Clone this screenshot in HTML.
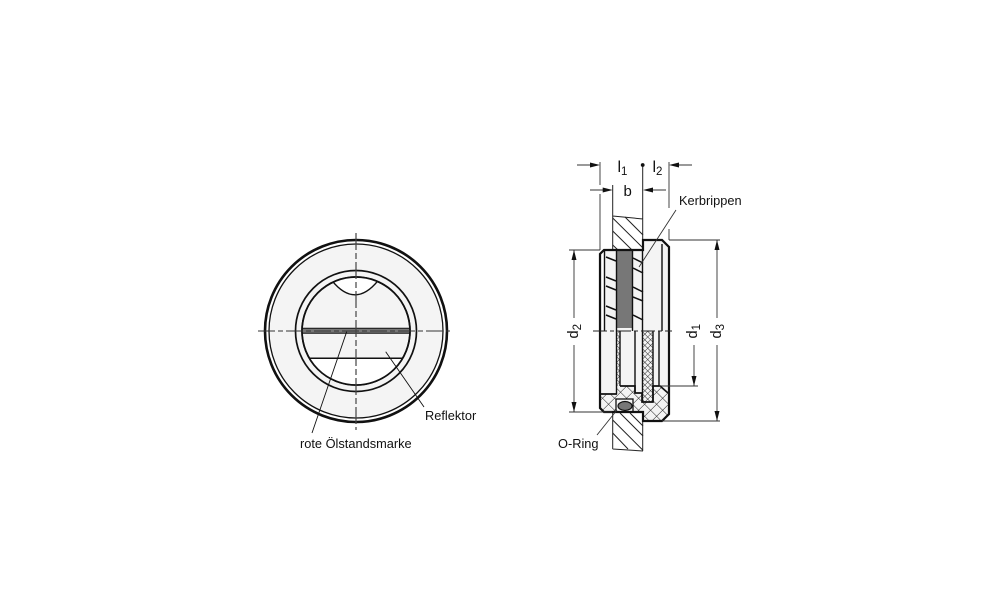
<!DOCTYPE html>
<html><head><meta charset="utf-8"><style>
html,body{margin:0;padding:0;background:#fff;width:1000px;height:611px;overflow:hidden}
svg{display:block}
text{font-family:"Liberation Sans",sans-serif;fill:#111}
</style></head><body>
<svg width="1000" height="611" viewBox="0 0 1000 611" xmlns="http://www.w3.org/2000/svg">
<defs>
<pattern id="x" width="8.5" height="8.5" patternUnits="userSpaceOnUse" patternTransform="rotate(45 640 400)">
<rect width="8.5" height="8.5" fill="#f4f4f4"/><path d="M0 0H8.5M0 0V8.5" stroke="#222" stroke-width="1"/>
</pattern>
<pattern id="xs" width="4" height="4" patternUnits="userSpaceOnUse" patternTransform="rotate(45)">
<rect width="4" height="4" fill="#f4f4f4"/><path d="M0 0H4M0 0V4" stroke="#222" stroke-width=".9"/>
</pattern>
<clipPath id="c"><circle cx="356" cy="331" r="54"/></clipPath>
</defs>

<!-- front view -->
<circle cx="356" cy="331" r="91" fill="#fff" stroke="#111" stroke-width="2.6"/>
<circle cx="356" cy="331" r="87" fill="#f4f4f4" stroke="#111" stroke-width="1.3"/>
<circle cx="356" cy="331" r="60.5" fill="#f4f4f4" stroke="#111" stroke-width="1.7"/>
<circle cx="356" cy="331" r="54" fill="#f4f4f4" stroke="#111" stroke-width="1.7"/>
<g clip-path="url(#c)">
<rect x="300" y="358" width="112" height="30" fill="#fff"/>
<path d="M332 280.7Q355 309 378 280.7V270H332Z" fill="#fff" stroke="#111" stroke-width="1.4"/>
<rect x="300" y="328.3" width="112" height="5" fill="#777"/>
<path d="M300 328.3H412M300 333.3H412" stroke="#111" stroke-width="1"/>
<path d="M300 358.3H412" stroke="#111" stroke-width="1.5"/>
</g>
<circle cx="356" cy="331" r="54" fill="none" stroke="#111" stroke-width="1.7"/>
<path d="M258 331H450" stroke="#333" stroke-width="1" stroke-dasharray="17 3 5 3" fill="none"/>
<path d="M356 233V430" stroke="#444" stroke-width="1.2" stroke-dasharray="17 3 6 3" fill="none"/>
<path d="M346.7 331.7L312 433M385.7 351.7L424 407" stroke="#111" stroke-width=".9" fill="none"/>
<text x="425" y="420" font-size="12.8">Reflektor</text>
<text x="300" y="448" font-size="12.8">rote Ölstandsmarke</text>

<!-- wall -->
<g stroke="#222" stroke-width="1" fill="none">
<path d="M625 217L643 235M612.7 218L643 248M612.7 231L632 250M612.7 245L618 250"/>
<path d="M612.7 420L642.7 450M612.7 433L628 449M620 413L643 436M630 413L643 426"/>
<path d="M612.7 185V250M612.7 412V449M642.7 165V240M642.7 412V451M612.7 216L643 219M612.7 449L643 451"/>
</g>

<!-- body -->
<path d="M604 250H643V240H662L669 247V414L662 421H643V412H604L600 408V254Z" fill="#f4f4f4"/>
<rect x="617" y="250" width="15.5" height="78" fill="#777"/>
<rect x="602" y="252" width="2.5" height="79" fill="#fff"/>
<rect x="617" y="331" width="3" height="55" fill="url(#xs)"/>
<rect x="642.5" y="331" width="10.5" height="71" fill="url(#xs)"/>
<path d="M600 394H617V386H635V393H642V402H653V386H660L668 393V414L662 421H643V412H604L600 408Z" fill="url(#x)"/>
<rect x="616" y="399" width="17" height="13" fill="#f4f4f4" stroke="#111" stroke-width="1.3"/>
<ellipse cx="625" cy="406" rx="7" ry="4.5" fill="#777" stroke="#111" stroke-width="1.2"/>

<!-- diagonals -->
<path d="M606 257L616 261M606 277L616 281M606 286L616 290M606 306L616 310M606 315L616 319M633 258L643 263M633 268L643 273M633 287L643 292M633 297L643 301M633 315L643 320" stroke="#111" stroke-width="1.5" fill="none"/>

<!-- verticals -->
<path d="M604.5 250V331M616.5 250V394M632.5 250V331M620 331V386M635 331V393M642.5 250V402M653 331V402M659 331V386M662 244V331" stroke="#111" stroke-width="1.4" fill="none"/>
<!-- outline -->
<path d="M604 250H643V240H662L669 247V414L662 421H643V412H604L600 408V254Z" fill="none" stroke="#111" stroke-width="2.2"/>
<path d="M600 394H617M620 386H635V393H642V402H653V386H660L668 393" fill="none" stroke="#111" stroke-width="1.7"/>
<path d="M593 331H672" stroke="#222" stroke-width="1" stroke-dasharray="14 3 4 3" fill="none"/>

<!-- dimension lines -->
<g stroke="#333" stroke-width=".9" fill="none">
<path d="M600 162V185M600 194V250M669 162V208M669 229V240"/>
<path d="M577 165H598M692 165H671M590 190H610M666 190H645"/>
<path d="M569 250H600M569 412H612M669 240H720M662 421H720M659 386H698"/>
<path d="M574 250V318M574 345V412M694 345V386M717 240V318M717 345V421"/>
<path d="M676 210L639 267M597 435L617 410"/>
</g>
<g fill="#111">
<path d="M600 165l-10-2.5v5zM669 165l10-2.5v5zM612.7 190l-10-2.5v5zM643 190l10-2.5v5z"/>
<path d="M574 250l-2.5 10h5zM574 412l-2.5-10h5zM694 386l-2.5-10h5zM717 240l-2.5 10h5zM717 421l-2.5-10h5z"/>
<circle cx="642.7" cy="165" r="1.9"/>
</g>

<!-- labels -->
<text x="617.5" y="172" font-size="16">l</text><text x="621" y="175" font-size="11.5">1</text>
<text x="652.5" y="172" font-size="16">l</text><text x="656" y="175" font-size="11.5">2</text>
<text x="623.5" y="196" font-size="15">b</text>
<text x="679" y="205" font-size="12.8">Kerbrippen</text>
<text x="558" y="448" font-size="12.8">O-Ring</text>
<g font-size="14.5">
<text transform="translate(578 338.5) rotate(-90)">d<tspan font-size="11.5" dy="3">2</tspan></text>
<text transform="translate(697 338.5) rotate(-90)">d<tspan font-size="11.5" dy="3">1</tspan></text>
<text transform="translate(721 338.5) rotate(-90)">d<tspan font-size="11.5" dy="3">3</tspan></text>
</g>
</svg>
</body></html>
